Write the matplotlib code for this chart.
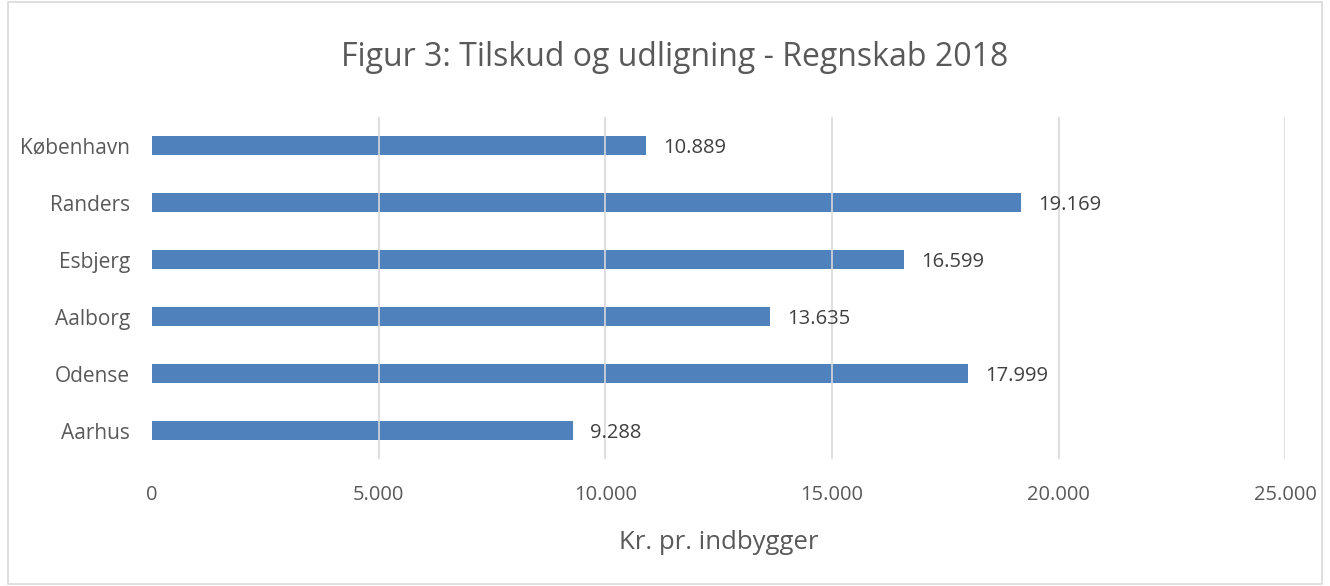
import matplotlib
matplotlib.use("Agg")
import matplotlib.pyplot as plt
from matplotlib.patches import Rectangle
from matplotlib.ticker import FuncFormatter

categories = ["København", "Randers", "Esbjerg", "Aalborg", "Odense", "Aarhus"]
values = [10889, 19169, 16599, 13635, 17999, 9288]
xticks = [0, 5000, 10000, 15000, 20000, 25000]

title = "Figur 3: Tilskud og udligning - Regnskab 2018"
xlabel = "Kr. pr. indbygger"

plt.rcParams['font.family'] = ['Open Sans', 'DejaVu Sans']

def dk(v):
    return f"{int(v):,}".replace(",", ".")

fig = plt.figure(figsize=(13.3, 5.86), dpi=100)
fig.patches.append(Rectangle((0.006, 0.004), 0.988, 0.992, transform=fig.transFigure,
                             fill=False, edgecolor="#D9D9D9", linewidth=1.2))
ax = fig.add_axes([0.1143, 0.2167, 0.852, 0.5836])

ypos = list(range(len(categories)))
ax.barh(ypos, values, height=0.35, color="#4F81BD", zorder=2)
ax.set_ylim(-0.5, len(categories) - 0.5)
ax.invert_yaxis()
ax.set_xlim(0, 25000)
ax.set_xticks(xticks)
ax.xaxis.set_major_formatter(FuncFormatter(lambda v, p: dk(v)))
ax.set_yticks(ypos)
ax.set_yticklabels(categories)

for v in xticks[1:]:
    ax.axvline(v, color="#D9D9D9", linewidth=1.2, zorder=3)

for s in ax.spines.values():
    s.set_visible(False)
ax.tick_params(axis="both", length=0, labelcolor="#595959")
ax.tick_params(axis="x", pad=19, labelsize=14.5)
ax.tick_params(axis="y", pad=16, labelsize=15)

for y, v in zip(ypos, values):
    ax.text(v + 380, y + 0.05, dk(v), va="center", ha="left", fontsize=14.5,
            color="#404040", zorder=4)

ax.set_xlabel(xlabel, fontsize=18.5, color="#595959", labelpad=18)
fig.text(0.507, 0.902, title, ha="center", va="center", fontsize=23, color="#595959")

fig.savefig("out.png", dpi=100)
